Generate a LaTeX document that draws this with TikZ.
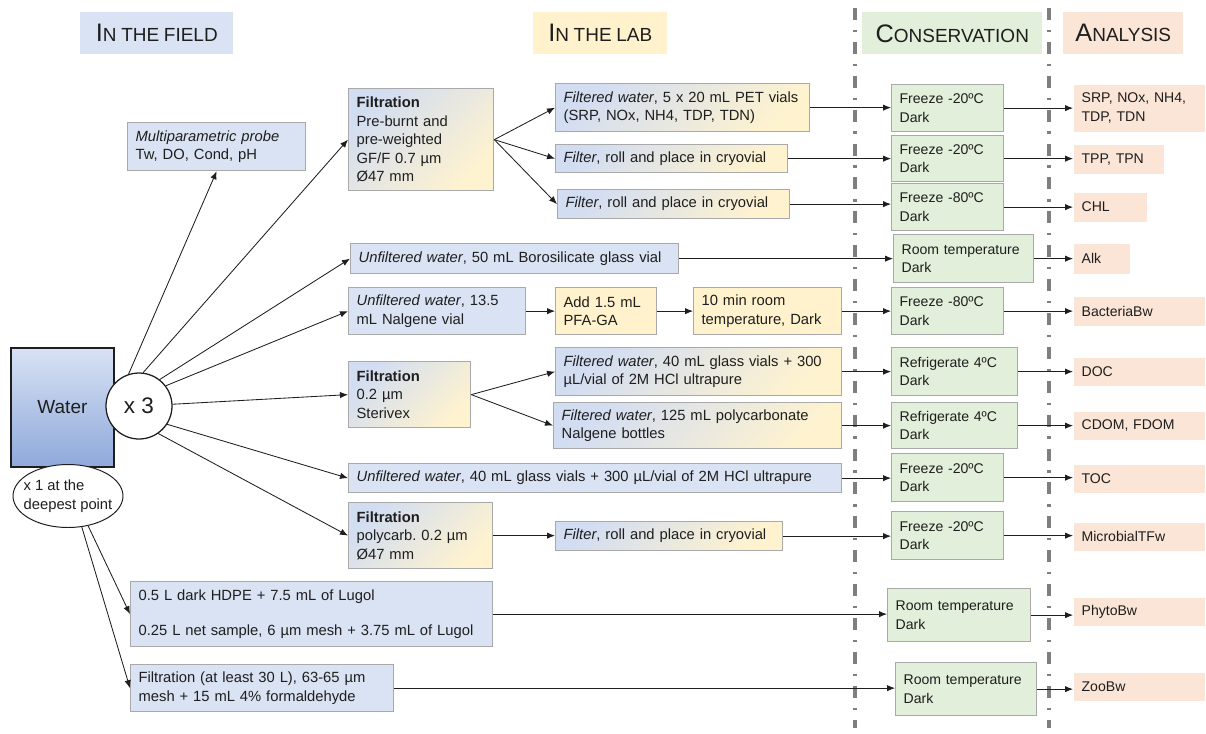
\documentclass[tikz,border=0pt]{standalone}
\usepackage{fontspec}
\setmainfont{Liberation Sans}
\usetikzlibrary{arrows.meta,shapes.geometric}
\definecolor{ink}{HTML}{1E1E1E}
\definecolor{edge}{HTML}{A9A9A9}
\definecolor{field}{HTML}{DAE3F3}
\definecolor{lab}{HTML}{FFF2CC}
\definecolor{cons}{HTML}{E2EFDA}
\definecolor{ana}{HTML}{FBE5D6}
\definecolor{mixblue}{HTML}{D2DDF2}
\definecolor{mixyel}{HTML}{FFF3CF}
\definecolor{watertop}{HTML}{D8E2F4}
\definecolor{waterbot}{HTML}{8EA9DB}
\definecolor{sepline}{HTML}{7F7F7F}
\newcommand\boxfont{\fontsize{10.5}{13.2}\selectfont}
\newcommand\cellfont{\fontsize{10}{13.2}\selectfont}
\newcommand\hdcap[2]{{\fontsize{18}{20}\selectfont #1}{\fontsize{13.5}{20}\selectfont #2}}
\tikzset{
  sz/.code 2 args={\pgfmathsetmacro\boxtw{(#1-16)*0.7113}%
    \pgfkeysalso{minimum width=#1*0.025cm, minimum height=#2*0.025cm, text width=\boxtw pt}},
  pbox/.style={draw=edge, line width=0.9pt, anchor=north west, inner xsep=5.69pt,
               inner ysep=2pt, align=left, font=\boxfont, text=ink},
  fieldbox/.style={pbox, fill=field},
  labbox/.style={pbox, fill=lab},
  mixbox/.style={pbox, top color=mixblue, bottom color=mixyel, shading angle=45},
  consbox/.style={pbox, fill=cons, font=\cellfont},
  anabox/.style={pbox, draw=none, fill=ana, font=\cellfont},
  header/.style={anchor=north west, fill=#1, inner xsep=5.69pt, align=center, text=ink},
  arr/.style={-{Latex[length=2mm,width=1.6mm]}, line width=0.6pt, draw=ink},
  divider/.style={draw=sepline, line width=2.6pt, dash pattern=on 8.5pt off 7pt on 1.6pt off 7pt}
}

\begin{document}
\begin{tikzpicture}[x=0.025cm,y=-0.025cm]
  \useasboundingbox (0,0) rectangle (1206,733);

  % column separators
  \draw[divider] (855,8) -- (855,728);
  \draw[divider] (1049,8) -- (1049,728);

  % headers
  \node (hfield) [header=field, sz={153}{42}] at (80,12) {\hdcap{I}{N THE FIELD}};
  \node (hlab) [header=lab, sz={134}{42}] at (533,12) {\hdcap{I}{N THE LAB}};
  \node (hcons) [header=cons, sz={180}{42}] at (862,12) {\hdcap{C}{ONSERVATION}};
  \node (hana) [header=ana, sz={120}{42}] at (1063,12) {\hdcap{A}{NALYSIS}};

  % sample
  \node (water) [draw=ink, line width=1.3pt, top color=watertop, bottom color=waterbot,
                 anchor=north west, sz={103}{119}, align=center, text=ink,
                 font=\fontsize{13.5}{16}\selectfont] at (10,347) {Water};
  \node (x3) [circle, draw=ink, line width=0.9pt, fill=white, minimum size=66*0.025cm,
              inner sep=0pt, text=ink, font=\fontsize{16}{18}\selectfont] at (139,406) {x 3};
  \node (deep) [ellipse, draw=ink, line width=0.7pt, fill=white, minimum width=110*0.025cm,
                minimum height=63*0.025cm, inner xsep=-4pt, inner ysep=0pt, align=left,
                text=ink, font=\boxfont] at (68,496) {x 1 at the\\deepest point};

  % field and lab
  \node (probe) [fieldbox, sz={178}{48}] at (127,122) {\textit{Multiparametric probe}\\Tw, DO, Cond, pH};
  \node (filtgf) [mixbox, sz={145}{102}] at (348,88)
    {\textbf{Filtration}\\Pre-burnt and\\pre-weighted\\GF/F 0.7 µm\\Ø47 mm};
  \node (pet) [mixbox, sz={254}{48}] at (555,83)
    {\textit{Filtered water}, 5 x 20 mL PET vials\\(SRP, NOx, NH4, TDP, TDN)};
  \node (cryoA) [mixbox, sz={232}{28}] at (555,144) {\textit{Filter}, roll and place in cryovial};
  \node (cryoB) [mixbox, sz={232}{29}] at (557,189) {\textit{Filter}, roll and place in cryovial};
  \node (boro) [fieldbox, sz={328}{30}] at (350,243) {\textit{Unfiltered water}, 50 mL Borosilicate glass vial};
  \node (nalg) [fieldbox, sz={177}{47}] at (348,287) {\textit{Unfiltered water}, 13.5\\mL Nalgene vial};
  \node (pfa) [labbox, sz={101}{47}] at (555,287) {Add 1.5 mL\\PFA-GA};
  \node (rest) [labbox, sz={148}{47}] at (693,287) {10 min room\\temperature, Dark};
  \node (filtst) [mixbox, sz={122}{66}] at (348,361) {\textbf{Filtration}\\0.2 µm\\Sterivex};
  \node (hcl) [mixbox, sz={286}{48}] at (555,347)
    {\textit{Filtered water}, 40 mL glass vials + 300\\µL/vial of 2M HCl ultrapure};
  \node (poly) [mixbox, sz={288}{46}] at (553,402)
    {\textit{Filtered water}, 125 mL polycarbonate\\Nalgene bottles};
  \node (tot) [fieldbox, sz={493}{29}] at (348,463)
    {\textit{Unfiltered water}, 40 mL glass vials + 300 µL/vial of 2M HCl ultrapure};
  \node (filtpc) [mixbox, sz={144}{66}] at (348,502) {\textbf{Filtration}\\polycarb.\ 0.2 µm\\Ø47 mm};
  \node (cryoC) [mixbox, sz={227}{29}] at (555,521) {\textit{Filter}, roll and place in cryovial};
  \node (lugol) [fieldbox, sz={362}{65}] at (130,581)
    {0.5 L dark HDPE + 7.5 mL of Lugol\\[12pt]0.25 L net sample, 6 µm mesh + 3.75 mL of Lugol};
  \node (net) [fieldbox, sz={263}{47}] at (130,664)
    {Filtration (at least 30 L), 63-65 µm\\mesh + 15 mL 4\% formaldehyde};

  % conservation
  \node (frzA) [consbox, sz={112}{47}] at (891,84) {Freeze -20ºC\\Dark};
  \node (frzB) [consbox, sz={112}{46}] at (891,135) {Freeze -20ºC\\Dark};
  \node (frzC) [consbox, sz={112}{47}] at (891,183) {Freeze -80ºC\\Dark};
  \node (roomA) [consbox, sz={140}{48}] at (893,234) {Room temperature\\Dark};
  \node (frzD) [consbox, sz={112}{47}] at (891,287) {Freeze -80ºC\\Dark};
  \node (refA) [consbox, sz={126}{48}] at (891,347) {Refrigerate 4ºC\\Dark};
  \node (refB) [consbox, sz={126}{46}] at (891,402) {Refrigerate 4ºC\\Dark};
  \node (frzE) [consbox, sz={112}{48}] at (891,453) {Freeze -20ºC\\Dark};
  \node (frzF) [consbox, sz={112}{48}] at (891,511) {Freeze -20ºC\\Dark};
  \node (roomB) [consbox, sz={143}{53}] at (887,588) {Room temperature\\Dark};
  \node (roomC) [consbox, sz={141}{53}] at (895,662) {Room temperature\\Dark};

  % analysis
  \node (nutr) [anabox, sz={131}{47}] at (1073,84) {SRP, NOx, NH4,\\TDP, TDN};
  \node (tpp) [anabox, sz={90}{29}] at (1073,144) {TPP, TPN};
  \node (chl) [anabox, sz={73}{29}] at (1073,192) {CHL};
  \node (alk) [anabox, sz={56}{30}] at (1073,243) {Alk};
  \node (bact) [anabox, sz={131}{29}] at (1073,296) {BacteriaBw};
  \node (docA) [anabox, sz={131}{28}] at (1073,357) {DOC};
  \node (cdomA) [anabox, sz={131}{28}] at (1073,411) {CDOM, FDOM};
  \node (tocA) [anabox, sz={131}{28}] at (1073,464) {TOC};
  \node (micr) [anabox, sz={131}{28}] at (1073,522) {MicrobialTFw};
  \node (phyto) [anabox, sz={131}{28}] at (1073,597) {PhytoBw};
  \node (zoo) [anabox, sz={131}{28}] at (1073,672) {ZooBw};

  % from the sample
  \draw[arr] (x3.108) -- (probe.south);
  \draw[arr] (x3.83) -- (filtgf.west);
  \draw[arr] (x3.52) -- (boro.west);
  \draw[arr] (x3.37) -- (nalg.west);
  \draw[arr] (x3.3) -- (filtst.west);
  \draw[arr] (x3.-33) -- (tot.west);
  \draw[arr] (x3.-55) -- (filtpc.west);
  \draw[arr] (deep.-56) -- (lugol.west);
  \draw[arr] (deep.-66) -- (net.west);

  % lab steps
  \draw[arr] (filtgf.east) -- (pet.west);
  \draw[arr] (filtgf.east) -- (cryoA.west);
  \draw[arr] (filtgf.east) -- (cryoB.west);
  \draw[arr] (nalg) -- (pfa);
  \draw[arr] (pfa) -- (rest);
  \draw[arr] (filtst.east) -- (hcl.west);
  \draw[arr] (filtst.east) -- (poly.west);
  \draw[arr] (filtpc.east) -- (filtpc.east -| cryoC.west);

  % to conservation
  \draw[arr] (pet.east) -- (pet.east -| frzA.west);
  \draw[arr] (cryoA.east) -- (cryoA.east -| frzB.west);
  \draw[arr] (cryoB.east) -- (cryoB.east -| frzC.west);
  \draw[arr] (boro.east) -- (boro.east -| roomA.west);
  \draw[arr] (rest.east) -- (rest.east -| frzD.west);
  \draw[arr] (hcl.east) -- (hcl.east -| refA.west);
  \draw[arr] (poly.east) -- (poly.east -| refB.west);
  \draw[arr] (tot.east) -- (tot.east -| frzE.west);
  \draw[arr] (cryoC.east) -- (cryoC.east -| frzF.west);
  \draw[arr] (lugol.east) -- (lugol.east -| roomB.west);
  \draw[arr] (net.east) -- (net.east -| roomC.west);

  % to analysis
  \draw[arr] (frzA.east) -- (frzA.east -| nutr.west);
  \draw[arr] (frzB.east) -- (frzB.east -| tpp.west);
  \draw[arr] (frzC.east) -- (frzC.east -| chl.west);
  \draw[arr] (roomA.east) -- (roomA.east -| alk.west);
  \draw[arr] (frzD.east) -- (frzD.east -| bact.west);
  \draw[arr] (refA.east) -- (refA.east -| docA.west);
  \draw[arr] (refB.east) -- (refB.east -| cdomA.west);
  \draw[arr] (frzE.east) -- (frzE.east -| tocA.west);
  \draw[arr] (frzF.east) -- (frzF.east -| micr.west);
  \draw[arr] (roomB.east) -- (roomB.east -| phyto.west);
  \draw[arr] (roomC.east) -- (roomC.east -| zoo.west);
\end{tikzpicture}
\end{document}
